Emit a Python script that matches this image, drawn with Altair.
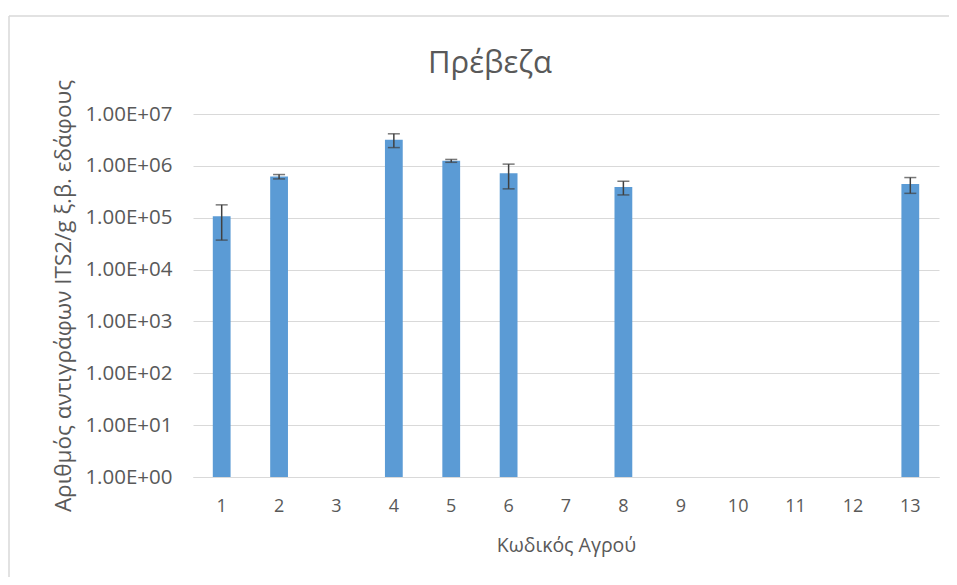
import altair as alt
import pandas as pd

codes = ["1", "2", "3", "4", "5", "6", "7", "8", "9", "10", "11", "12", "13"]
values = [1.07e5, 6.2e5, None, 3.2e6, 1.25e6, 7.2e5, None, 3.9e5, None, None, None, None, 4.45e5]
errors = [0.7e5, 0.6e5, None, 0.95e6, 0.08e6, 3.6e5, None, 1.15e5, None, None, None, None, 1.5e5]
y_ticks = [1, 10, 100, 1000, 10000, 100000, 1000000, 10000000]
chart_title = "Πρέβεζα"

rows = []
for c, v, e in zip(codes, values, errors):
    rows.append({
        "code": c,
        "value": v,
        "base": 1 if v is not None else None,
        "lo": (v - e) if v is not None else None,
        "hi": (v + e) if v is not None else None,
    })
df = pd.DataFrame(rows)

FONT = "Open Sans"
TXT = "#595959"

x_enc = alt.X(
    "code:N", sort=codes,
    scale=alt.Scale(paddingInner=0.69, paddingOuter=0.345),
    axis=alt.Axis(title="Κωδικός Αγρού", labelAngle=0, labelPadding=20, ticks=False,
                  domainColor="#d9d9d9", titlePadding=21, grid=False,
                  labelFontSize=18, titleFontSize=19.5),
)
y_scale = alt.Scale(type="log", domain=[1, 1e7])

base = alt.Chart(df)

bars = base.mark_bar(color="#5b9bd5").encode(
    x=x_enc,
    y=alt.Y("value:Q", scale=y_scale,
            axis=alt.Axis(title="Αριθμός αντιγράφων ITS2/g ξ.β. εδάφους", values=y_ticks,
                          labelExpr="'1.00E+' + (round(log(datum.value)/LN10) < 10 ? '0' : '') + round(log(datum.value)/LN10)",
                          ticks=False, domain=False, gridColor="#d9d9d9", labelPadding=21,
                          titlePadding=9, labelFontSize=20.5, titleFontSize=22.5)),
    y2="base:Q",
)

err = base.mark_rule(color="#404040", strokeWidth=1.5).encode(
    x=alt.X("code:N", sort=codes),
    y=alt.Y("lo:Q", scale=y_scale),
    y2="hi:Q",
)
cap_hi = base.mark_tick(color="#404040", size=12, thickness=1.5).encode(
    x=alt.X("code:N", sort=codes),
    y=alt.Y("hi:Q", scale=y_scale),
)
cap_lo = base.mark_tick(color="#404040", size=12, thickness=1.5).encode(
    x=alt.X("code:N", sort=codes),
    y=alt.Y("lo:Q", scale=y_scale),
)

deco = alt.Chart(pd.DataFrame({"t": [chart_title]}))
frame_top = deco.mark_rule(color="#d9d9d9", strokeWidth=1.5, clip=False).encode(
    x=alt.value(-184), x2=alt.value(900), y=alt.value(-98)
)
frame_left = deco.mark_rule(color="#d9d9d9", strokeWidth=1.5, clip=False).encode(
    x=alt.value(-184), y=alt.value(-98), y2=alt.value(600)
)
title_txt = deco.mark_text(
    font=FONT, fontSize=31, color=TXT, align="center", baseline="middle"
).encode(text="t:N", x=alt.value(297), y=alt.value(-50))

chart = alt.layer(frame_top, frame_left, title_txt, bars, err, cap_hi, cap_lo).properties(
    width=746, height=363,
    autosize=alt.AutoSizeParams(type="none"),
    padding={"left": 185, "top": 106, "right": 10, "bottom": 100},
).configure_view(stroke=None).configure_axis(
    labelFont=FONT, titleFont=FONT, labelColor=TXT, titleColor=TXT,
    titleFontWeight="normal",
)

chart.save("out.html", embed_options={"renderer": "svg", "actions": False})
